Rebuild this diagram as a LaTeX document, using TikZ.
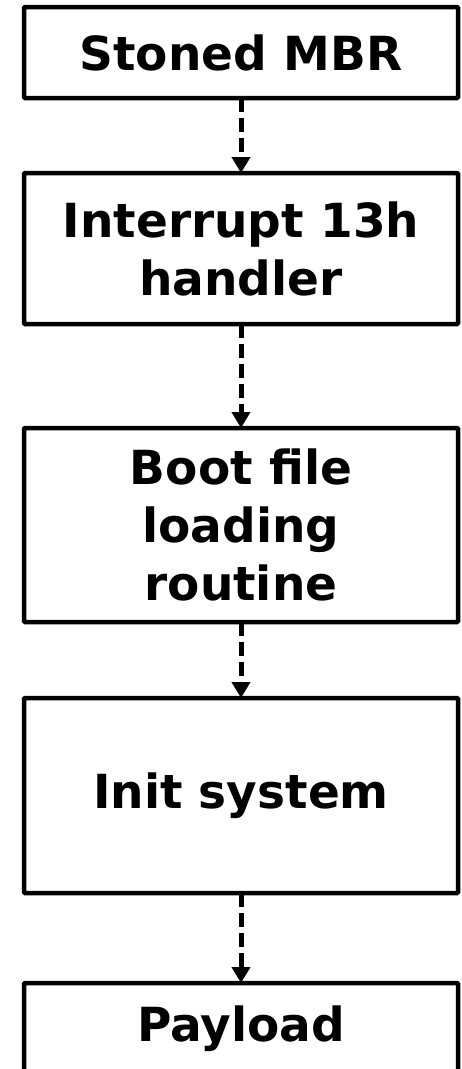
\documentclass[tikz,border=0pt]{standalone}
\usepackage{fontspec}
\setmainfont{DejaVu Sans}
\usetikzlibrary{arrows.meta}
\begin{document}
\begin{tikzpicture}[x=1pt,y=-1pt,
  stepbox/.style={draw=black, line width=4.5pt, rectangle, rounded corners=1pt,
    minimum width=434pt, inner sep=0pt, outer sep=0pt, align=center,
    font=\fontsize{47}{58}\selectfont\bfseries, text=black},
  flow/.style={draw=black, line width=5pt, dash pattern=on 14pt off 6pt,
    -{Triangle[width=18pt,length=16pt]}}
]
\useasboundingbox (0,0) rectangle (462,1069);
\clip (0,0) rectangle (462,1069);
\node[stepbox, minimum height=91pt]  (b1) at (241,52.5)  {Stoned MBR};
\node[stepbox, minimum height=151pt] (b2) at (241,248.5) {Interrupt 13h\\handler};
\node[stepbox, minimum height=194pt] (b3) at (241,525)   {Boot file\\loading\\routine};
\node[stepbox, minimum height=195pt] (b4) at (241,795.5) {Init system};
\node[stepbox, minimum height=91pt]  (b5) at (241,1028.5) {Payload};
\draw[flow] (b1.south) -- (b2.north);
\draw[flow] (b2.south) -- (b3.north);
\draw[flow] (b3.south) -- (b4.north);
\draw[flow] (b4.south) -- (b5.north);
\end{tikzpicture}
\end{document}
